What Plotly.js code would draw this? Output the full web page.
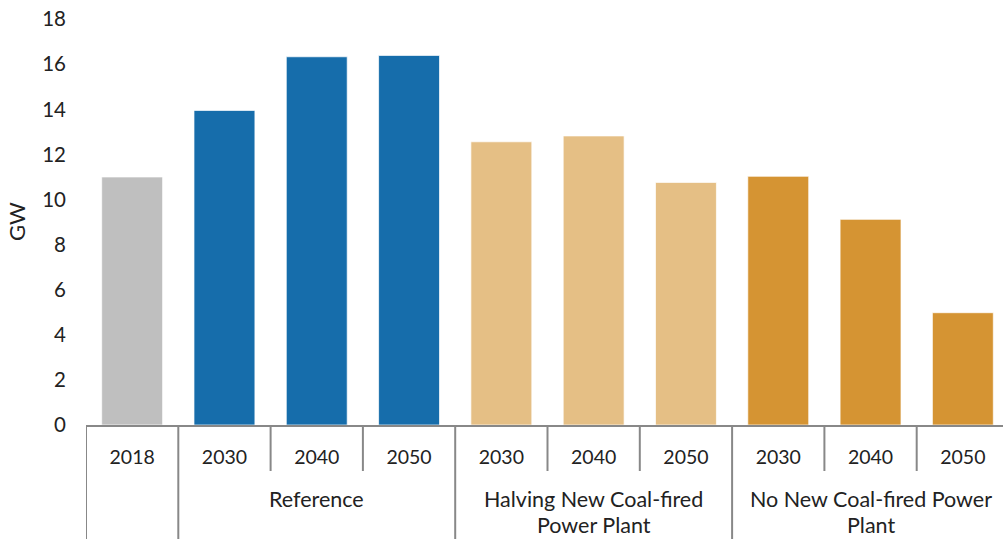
<!DOCTYPE html>
<html>
<head>
<meta charset="utf-8">
<script src="https://cdn.plot.ly/plotly-3.0.1.min.js"></script>
<style>html,body{margin:0;padding:0;background:#fff;}#chart{width:1003px;height:539px;}</style>
</head>
<body>
<div id="chart"></div>
<script>
var scenarios = ["", "Reference", "Reference", "Reference",
  "Halving New Coal-fired|Power Plant", "Halving New Coal-fired|Power Plant", "Halving New Coal-fired|Power Plant",
  "No New Coal-fired Power|Plant", "No New Coal-fired Power|Plant", "No New Coal-fired Power|Plant"];
var years = ["2018", "2030", "2040", "2050", "2030", "2040", "2050", "2030", "2040", "2050"];
var capacityGW = [11.0, 13.95, 16.33, 16.39, 12.56, 12.82, 10.76, 11.03, 9.12, 4.98];
var barColors = ["#BFBFBF", "#166DAB", "#166DAB", "#166DAB", "#E5BF85", "#E5BF85", "#E5BF85", "#D59433", "#D59433", "#D59433"];
var yTicks = [0, 2, 4, 6, 8, 10, 12, 14, 16, 18];

var font = "Lato, 'Open Sans', sans-serif";
var txt = "#222";
var lineCol = "#888";
var idx = years.map(function (_, i) { return i; });

// boundaries between categories: full-height between scenario groups, short within groups
var shapes = [];
var annotations = [];
for (var b = 0; b <= years.length; b++) {
  var left = scenarios[b - 1], right = scenarios[b];
  var isGroupEdge = (b === 0 || b === years.length || left !== right);
  shapes.push({
    type: "line", xref: "x", yref: "paper",
    x0: b - 0.5, x1: b - 0.5, y0: 0, y1: isGroupEdge ? -0.2801 : -0.113,
    line: {color: lineCol, width: 2}
  });
}
// group labels centered under their categories
var seen = {};
scenarios.forEach(function (s, i) {
  if (s === "" || seen[s]) return;
  seen[s] = true;
  var members = idx.filter(function (j) { return scenarios[j] === s; });
  var cx = (members[0] + members[members.length - 1]) / 2;
  s.split("|").forEach(function (line, k) {
    annotations.push({
      xref: "x", yref: "paper", x: cx, y: 0, yshift: -74 - 26 * k,
      xanchor: "center", yanchor: "middle", showarrow: false,
      text: line, font: {family: font, size: 21.5, color: txt}
    });
  });
});

Plotly.newPlot("chart", [{
  type: "bar",
  x: idx,
  y: capacityGW,
  marker: {color: barColors, line: {color: "rgba(255,255,255,0.7)", width: 1}},
  hoverinfo: "none"
}], {
  width: 1003, height: 539,
  margin: {l: 86, r: 0, t: 18, b: 114},
  paper_bgcolor: "#fff", plot_bgcolor: "#fff",
  bargap: 0.34,
  showlegend: false,
  font: {family: font, size: 19, color: txt},
  shapes: shapes,
  annotations: annotations,
  xaxis: {
    type: "linear",
    range: [-0.5, 9.435],
    tickvals: idx, ticktext: years,
    showline: true, linecolor: lineCol, linewidth: 2,
    ticks: "", ticklabelstandoff: 14,
    showgrid: false, zeroline: false,
    tickfont: {family: font, size: 19.5, color: txt}
  },
  yaxis: {
    range: [0, 18.05],
    tickvals: yTicks,
    ticktext: yTicks.map(String),
    showgrid: false, zeroline: false, showline: false,
    ticks: "", ticklabelstandoff: 19,
    tickfont: {family: font, size: 20.5, color: txt},
    title: {text: "GW", font: {family: font, size: 22, color: txt}, standoff: 10}
  }
}, {staticPlot: true});
</script>
</body>
</html>
